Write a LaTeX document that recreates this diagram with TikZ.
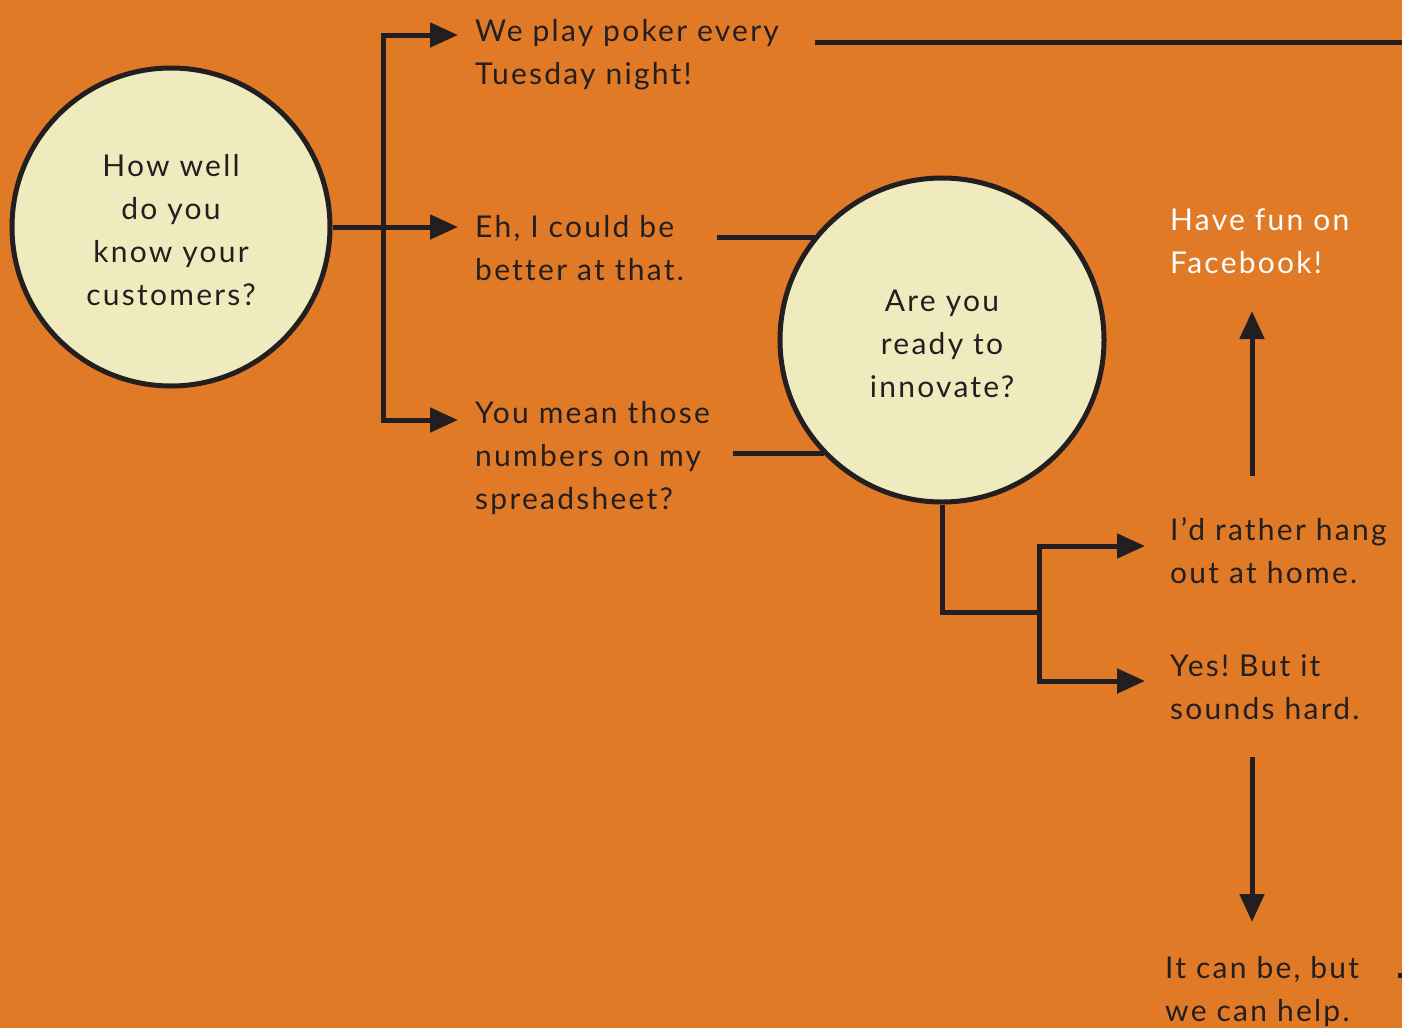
\documentclass[tikz,border=0pt]{standalone}
\usepackage{fontspec}
\setmainfont[LetterSpace=7.5,Ligatures=NoCommon]{Lato}
\usetikzlibrary{arrows.meta}
\definecolor{bgorange}{HTML}{E07A27}
\definecolor{cream}{HTML}{EFEBBE}
\definecolor{ink}{HTML}{231F20}
\frenchspacing
\begin{document}
\begin{tikzpicture}[x=1pt,y=-1pt,
  conn/.style={draw=ink,line width=5pt},
  arr/.style={conn,-{Triangle[length=28pt,width=24pt]}},
  bubble/.style={circle,draw=ink,line width=5pt,fill=cream,inner sep=0pt,
    text=ink,align=center,font=\fontsize{30}{43}\selectfont},
  answer/.style={inner sep=0pt,anchor=west,align=left,text=ink,
    font=\fontsize{30}{43}\selectfont},
]
\fill[bgorange] (0,0) rectangle (1402,1028);
\useasboundingbox (0,0) rectangle (1402,1028);

\node[bubble,minimum size=318pt] (q1) at (171,227) {\rule{0pt}{28pt}How well\\do you\\know your\\customers?};
\node[bubble,minimum size=324pt] (q2) at (942,340) {\rule{0pt}{29pt}Are you\\ready to\\innovate?};

\node[answer] (a1) at (475,55) {We play poker every\\Tuesday night!};
\node[answer] (a2) at (475,248) {Eh, I could be\\better at that.};
\node[answer] (a3) at (475,458) {You mean those\\numbers on my\\spreadsheet?};
\node[answer] (b1) at (1170,551) {I’d rather hang\\out at home.};
\node[answer] (b2) at (1170,687) {Yes! But it\\sounds hard.};
\node[answer,text=white] (c1) at (1170,241) {Have fun on\\Facebook!};
\node[answer] (c2) at (1165,992) {It can be, but\\we can help.};

% bracket from q1
\coordinate (j1) at (383,227);
\coordinate (t1) at (458,35);
\coordinate (t2) at (458,227);
\coordinate (t3) at (458,420);
\draw[conn] (q1.east) -- (j1);
\draw[arr] (j1) |- (t1);
\draw[arr] (j1) -- (t2);
\draw[arr] (j1) |- (t3);

% lines from answers
\coordinate (r1) at (1402,42);
\coordinate (l1) at (815,42);
\coordinate (l2) at (717,237);
\coordinate (l3) at (733,453);
\draw[conn] (l1) -- (r1);
\draw[conn] (l2) -- (q2.140.5 |- l2);
\draw[conn] (l3) -- (q2.224.2 |- l3);

% bracket from q2
\coordinate (k0) at (942,612);
\coordinate (k1) at (1039,612);
\coordinate (u1) at (1145,546);
\coordinate (u2) at (1145,681);
\draw[conn] (q2.south) -- (k0) -- (k1);
\draw[arr] (k1) |- (u1);
\draw[arr] (k1) |- (u2);

% vertical arrows
\coordinate (v1s) at (1252,476);
\coordinate (v1e) at (1252,311);
\coordinate (v2s) at (1252,757);
\coordinate (v2e) at (1252,922);
\draw[arr] (v1s) -- (v1e);
\draw[arr] (v2s) -- (v2e);

% stub at bottom right
\coordinate (s1) at (1398,975);
\coordinate (s2) at (1402,975);
\draw[conn] (s1) -- (s2);
\end{tikzpicture}
\end{document}
